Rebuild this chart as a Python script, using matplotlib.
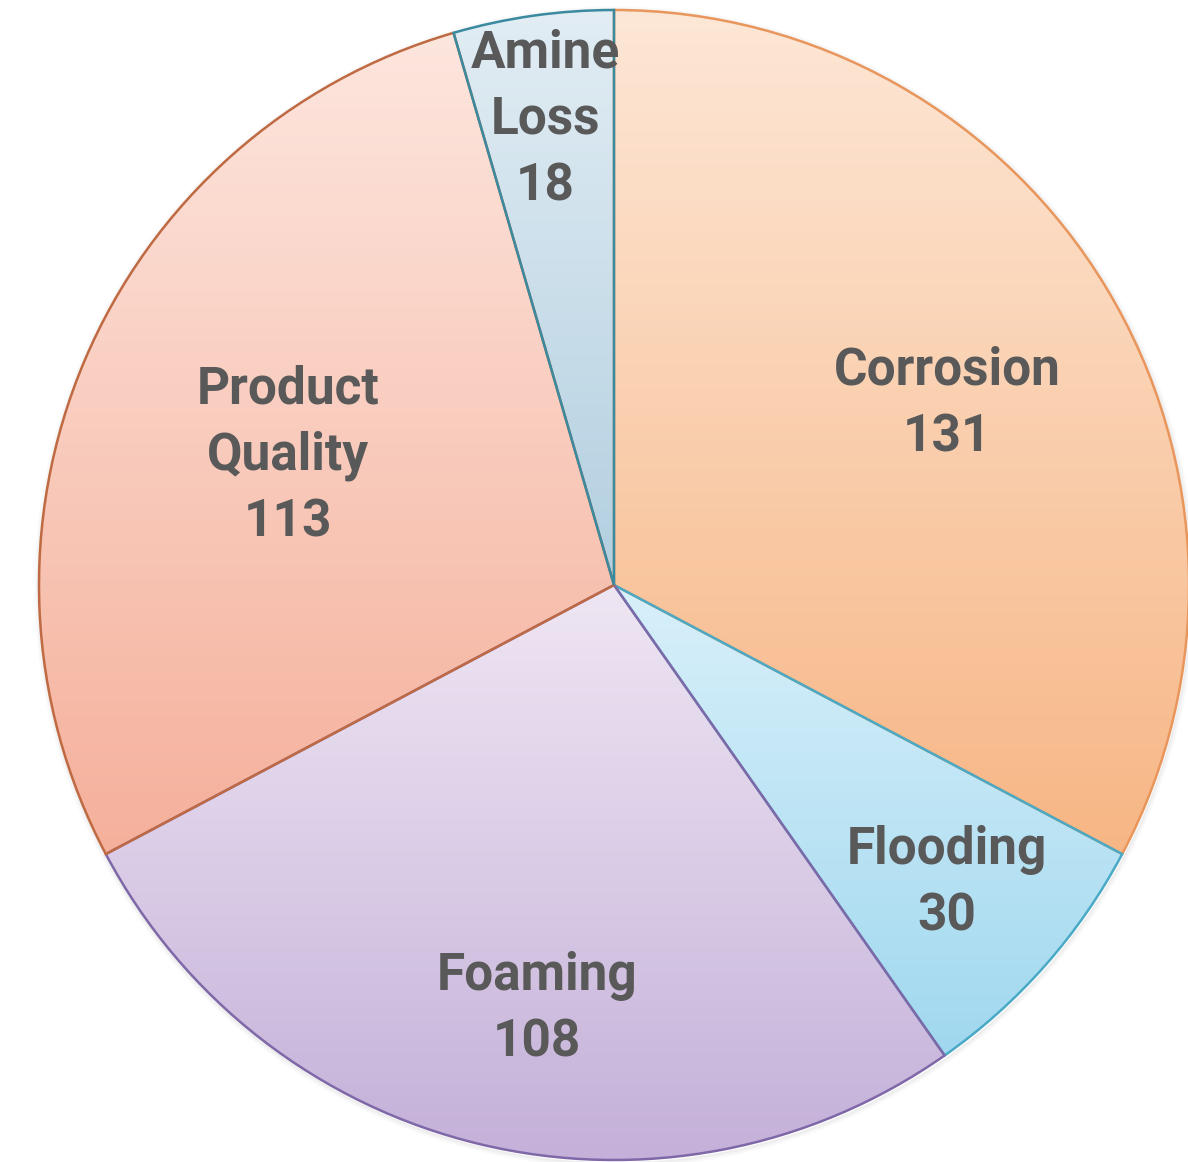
import numpy as np
import matplotlib
matplotlib.use("Agg")
import matplotlib.pyplot as plt
from matplotlib.colors import to_rgb
from matplotlib.patches import Circle

categories = ["Corrosion", "Flooding", "Foaming", "Product\nQuality", "Amine\nLoss"]
values = [131, 30, 108, 113, 18]

top_colors = ["#fde7d6", "#d9f0fa", "#efe6f3", "#fde6de", "#e2edf4"]
bottom_colors = ["#f7b685", "#a0d8ef", "#c4b0d9", "#f5b09b", "#b2cfe0"]
edge_colors = ["#e8965c", "#4aaac6", "#7f68a8", "#bf6a42", "#3a8aa0"]
label_pos = [(947, 404), (947, 883), (537, 1009), (288, 456), (545, 120)]

W, H = 1188, 1162
fig = plt.figure(figsize=(W / 100, H / 100), dpi=100)
ax = fig.add_axes([0, 0, 1, 1])

cx, cy, R = 614, H - 585, 575
wedges, _ = ax.pie(values, startangle=90, counterclock=False, center=(cx, cy),
                   radius=R, wedgeprops=dict(linewidth=1.8))

# soft shadow
for k, a in zip(range(1, 6), [0.10, 0.07, 0.05, 0.03, 0.02]):
    ax.add_patch(Circle((cx + 1, cy - 2), R + k, facecolor="none",
                        edgecolor="#808080", linewidth=1.2, alpha=a, zorder=1))

for w, tc, bc, ec in zip(wedges, top_colors, bottom_colors, edge_colors):
    w.set_facecolor("none")
    w.set_edgecolor(ec)
    w.set_zorder(3)
    ext = w.get_path().get_extents()
    t = np.linspace(0, 1, 256)[:, None, None]
    grad = (1 - t) * np.array(to_rgb(tc)) + t * np.array(to_rgb(bc))
    im = ax.imshow(grad, extent=(ext.x0, ext.x1, ext.y0, ext.y1), origin="upper",
                   aspect="auto", zorder=2, interpolation="bilinear")
    im.set_clip_path(w)

fam = ["Roboto", "Liberation Sans", "DejaVu Sans"]
for lab, v, (x, y) in zip(categories, values, label_pos):
    ax.text(x, H - y, f"{lab}\n{v}", ha="center", va="center", fontsize=37,
            fontweight="bold", color="#595959", family=fam, linespacing=1.42, zorder=5)

ax.set_xlim(0, W)
ax.set_ylim(0, H)
ax.set_aspect("equal")
ax.axis("off")
fig.savefig("out.png", dpi=100)
